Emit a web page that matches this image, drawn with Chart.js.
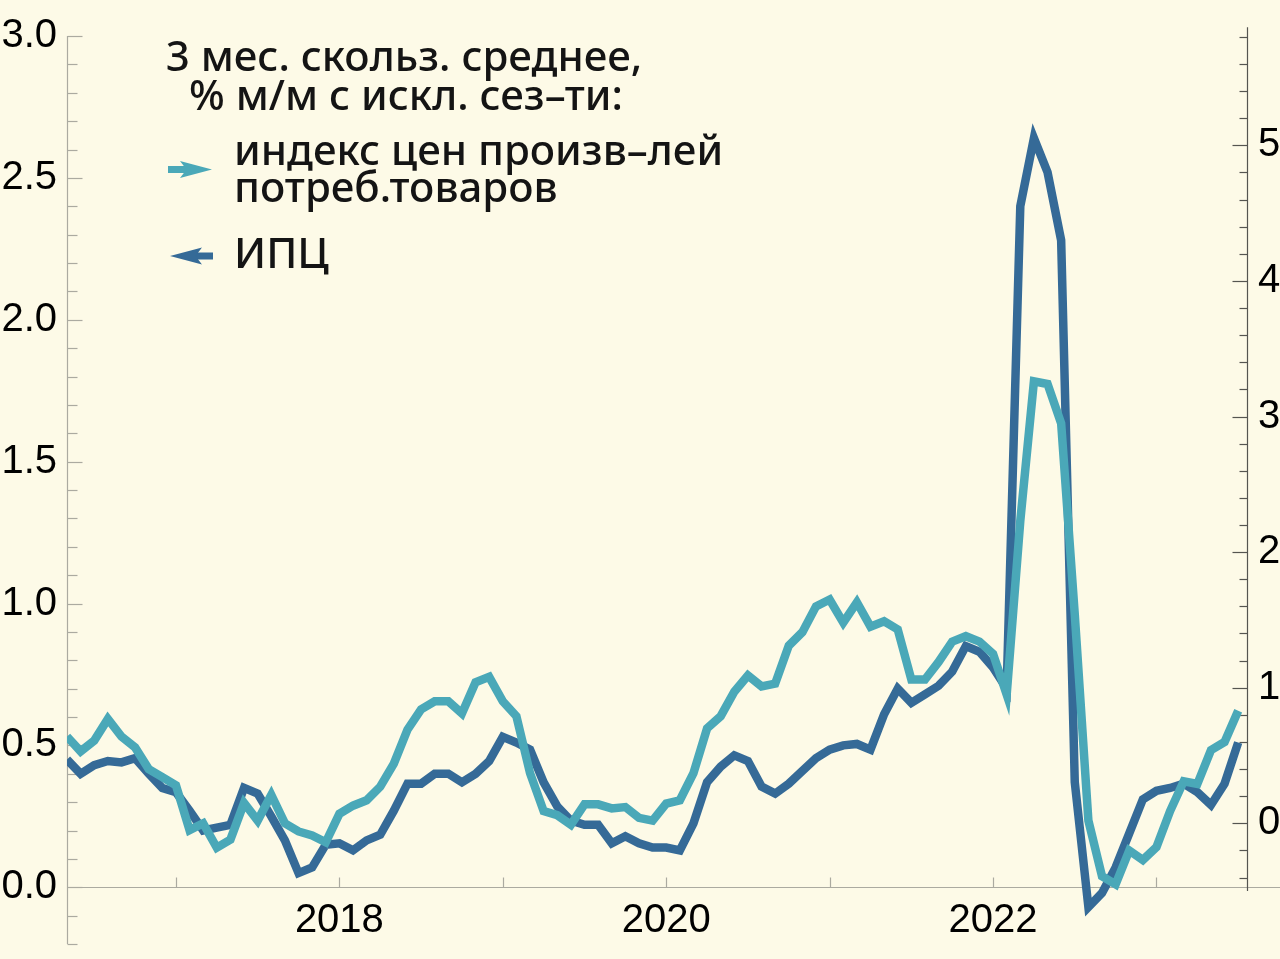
<!DOCTYPE html>
<html><head><meta charset="utf-8">
<script src="https://cdn.jsdelivr.net/npm/chart.js@4.4.0/dist/chart.umd.min.js"></script>
<style>
html,body{margin:0;padding:0;background:#FDFAE7;}
#wrap{position:relative;width:1280px;height:959px;overflow:hidden;}
#c{position:absolute;left:0;top:0;}
.t{position:absolute;font-family:"Noto Sans",sans-serif;font-weight:500;font-size:42px;line-height:42px;letter-spacing:0px;color:#141414;white-space:nowrap;}
.ctr{transform:translateX(-50%);}
svg{position:absolute;left:0;top:0;}
</style></head><body>
<div id="wrap">
<canvas id="c" width="1280" height="959"></canvas>
<div class="t ctr" style="left:404px;top:34px;">3 мес. скольз. среднее,</div>
<div class="t ctr" style="left:406px;top:73px;">% м/м с искл. сез–ти:</div>
<div class="t" style="left:234px;top:128px;">индекс цен произв–лей</div>
<div class="t" style="left:234px;top:165px;">потреб.товаров</div>
<div class="t" style="left:234px;top:231px;">ИПЦ</div>
<svg width="260" height="300">
  <rect x="168" y="166" width="20" height="7" fill="#4AA8B8"/>
  <polygon points="212,169.5 180,161 186.5,169.5 180,178" fill="#4AA8B8"/>
  <rect x="194" y="252.5" width="19" height="7" fill="#356A97"/>
  <polygon points="170,256 202,247.5 195.5,256 202,264.5" fill="#356A97"/>
</svg>
</div>
<script>
// ---- data ----
const months = [
 '2016-05','2016-06','2016-07','2016-08','2016-09','2016-10','2016-11','2016-12',
 '2017-01','2017-02','2017-03','2017-04','2017-05','2017-06','2017-07','2017-08','2017-09','2017-10','2017-11','2017-12',
 '2018-01','2018-02','2018-03','2018-04','2018-05','2018-06','2018-07','2018-08','2018-09','2018-10','2018-11','2018-12',
 '2019-01','2019-02','2019-03','2019-04','2019-05','2019-06','2019-07','2019-08','2019-09','2019-10','2019-11','2019-12',
 '2020-01','2020-02','2020-03','2020-04','2020-05','2020-06','2020-07','2020-08','2020-09','2020-10','2020-11','2020-12',
 '2021-01','2021-02','2021-03','2021-04','2021-05','2021-06','2021-07','2021-08','2021-09','2021-10','2021-11','2021-12',
 '2022-01','2022-02','2022-03','2022-04','2022-05','2022-06','2022-07','2022-08','2022-09','2022-10','2022-11','2022-12',
 '2023-01','2023-02','2023-03','2023-04','2023-05','2023-06','2023-07'
];
// индекс цен производителей потребительских товаров (right axis)
const ppiConsumer = [
 0.64,0.53,0.61,0.77,0.64,0.56,0.40,0.34,
 0.28,-0.05,0.00,-0.18,-0.12,0.15,0.02,0.21,0.00,-0.06,-0.09,-0.14,
 0.07,0.13,0.17,0.27,0.44,0.69,0.84,0.90,0.90,0.81,1.04,1.08,
 0.90,0.79,0.37,0.09,0.06,-0.01,0.14,0.14,0.11,0.12,0.04,0.02,
 0.145,0.17,0.37,0.70,0.79,0.97,1.09,1.01,1.03,1.31,1.41,1.60,
 1.65,1.48,1.63,1.45,1.49,1.43,1.06,1.06,1.19,1.34,1.38,1.34,
 1.25,0.95,2.23,3.26,3.24,2.95,1.54,0.02,-0.39,-0.45,-0.20,-0.27,
 -0.175,0.09,0.31,0.29,0.54,0.60,0.83
];
// ИПЦ (left axis)
const cpi = [
 0.45,0.40,0.43,0.445,0.44,0.455,0.40,0.35,
 0.335,0.27,0.20,0.21,0.22,0.35,0.33,0.25,0.165,0.05,0.07,0.15,
 0.155,0.13,0.165,0.185,0.27,0.365,0.365,0.40,0.40,0.37,0.40,0.445,
 0.53,0.51,0.485,0.37,0.285,0.235,0.22,0.22,0.155,0.18,0.155,0.14,
 0.14,0.13,0.225,0.37,0.425,0.465,0.445,0.355,0.33,0.365,0.41,0.455,
 0.485,0.50,0.505,0.485,0.61,0.70,0.65,0.68,0.71,0.76,0.85,0.83,
 0.775,0.70,2.40,2.64,2.52,2.28,0.37,-0.07,-0.02,0.07,0.19,0.31,
 0.34,0.35,0.365,0.335,0.29,0.365,0.51
];
const leftTicks = [0,0.5,1,1.5,2,2.5,3];
const rightTicks = [0,1,2,3,4,5];
const yearTicks = [2017,2018,2019,2020,2021,2022,2023];
const yearLabels = ['2018','2020','2022'];

const TEAL = '#4AA8B8', NAVY = '#356A97';
function mx(s){ const [yy,mm] = s.split('-').map(Number); return yy + (mm-1)/12; }

const axesPlugin = {
  id:'customAxes',
  beforeDatasetsDraw(chart){
    const {ctx, chartArea:a, scales} = chart;
    const x = scales.x, y = scales.y, y2 = scales.y2;
    const ln = (x1,y1,x2,y2_)=>{ctx.beginPath();ctx.moveTo(x1,y1);ctx.lineTo(x2,y2_);ctx.stroke();};
    ctx.save();
    ctx.lineWidth = 1.2;
    ctx.strokeStyle = '#ABAAA0';
    const lx = a.left + 0.5;
    ln(lx, y.getPixelForValue(3.0), lx, y.getPixelForValue(-0.2));
    for (let k=-2;k<=30;k++){
      const py = Math.round(y.getPixelForValue(k/10))+0.5;
      ln(lx, py, lx + (k%5===0?15:10), py);
    }
    const zy = Math.round(y.getPixelForValue(0))+0.5;
    ln(a.left, zy, chart.width, zy);
    yearTicks.forEach(v=>{ const px = Math.round(x.getPixelForValue(v))+0.5; ln(px, zy, px, zy-10); });
    ctx.strokeStyle = '#555550';
    const rx = a.right - 0.5;
    ln(rx, y2.getPixelForValue(5.87), rx, y2.getPixelForValue(-0.5));
    for (let k=-2;k<=29;k++){
      const py = Math.round(y2.getPixelForValue(k/5))+0.5;
      ln(rx, py, rx - (k%5===0?15:8), py);
    }
    ctx.restore();
  }
};

const noPad = s=>{ s.paddingTop = 0; s.paddingBottom = 0; };
const tickFont = {family:'"Liberation Sans", Arial, sans-serif', size:40};
new Chart(document.getElementById('c'), {
  type:'line',
  data:{
    datasets:[
      {label:'индекс цен произв–лей потреб.товаров', yAxisID:'y2', order:0,
       data: ppiConsumer.map((v,i)=>({x:mx(months[i]), y:v})),
       borderColor:TEAL, borderWidth:8.5, pointRadius:0, tension:0, borderJoinStyle:'miter', fill:false},
      {label:'ИПЦ', yAxisID:'y', order:1,
       data: cpi.map((v,i)=>({x:mx(months[i]), y:v})),
       borderColor:NAVY, borderWidth:8.5, pointRadius:0, tension:0, borderJoinStyle:'miter', fill:false}
    ]
  },
  options:{
    responsive:false, animation:false,
    layout:{padding:{top:36,bottom:15,left:0,right:0}},
    plugins:{legend:{display:false}, tooltip:{enabled:false}, title:{display:false}},
    scales:{
      x:{type:'linear', position:{y:0}, min:2016+4/12, max:2023.56,
         afterBuildTicks:s=>{s.ticks = yearTicks.map(v=>({value:v}));},
         afterFit:s=>{ s.paddingLeft = 0; s.paddingRight = 0; s.paddingTop = 0; s.paddingBottom = 0; },
         grid:{display:false, drawTicks:false}, border:{display:false},
         ticks:{autoSkip:false, maxRotation:0, padding:10, color:'#000', font:tickFont,
                callback:v=> yearLabels.includes(String(v)) ? String(v) : ''}},
      y:{type:'linear', position:'left', min:-0.2, max:3.0,
         afterBuildTicks:s=>{s.ticks = leftTicks.map(v=>({value:v}));},
         afterFit:s=>{ s.width = 67; noPad(s); },
         grid:{display:false, drawTicks:false}, border:{display:false},
         ticks:{padding:10, color:'#000', font:tickFont, callback:v=>Number(v).toFixed(1)}},
      y2:{type:'linear', position:'right', min:-0.890, max:5.806,
         afterBuildTicks:s=>{s.ticks = rightTicks.map(v=>({value:v}));},
         afterFit:s=>{ s.width = 32; noPad(s); },
         grid:{display:false, drawTicks:false}, border:{display:false},
         ticks:{padding:10, color:'#000', font:tickFont, callback:v=>String(v)}}
    }
  },
  plugins:[axesPlugin]
});
</script>
</body></html>
